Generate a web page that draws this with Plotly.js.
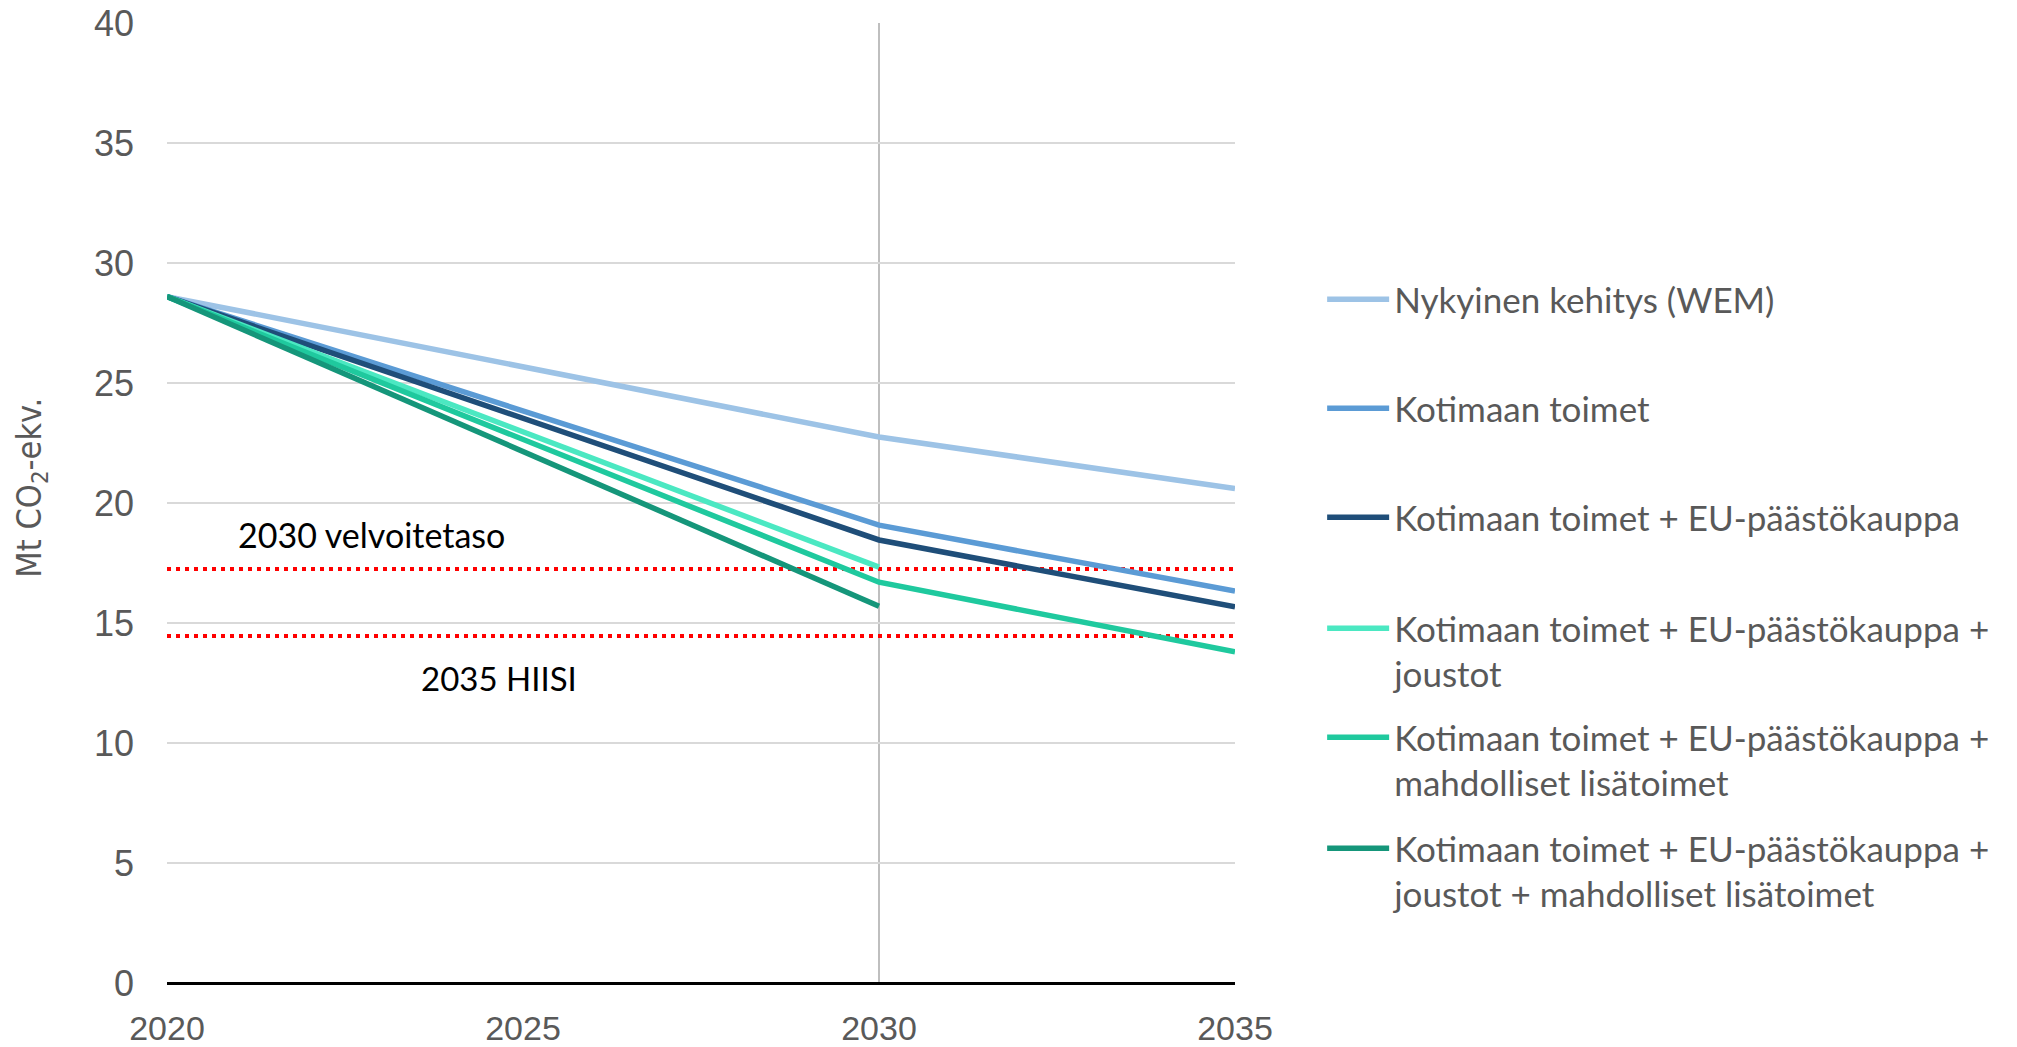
<!DOCTYPE html>
<html><head><meta charset="utf-8">
<script src="https://cdn.plot.ly/plotly-3.0.1.min.js"></script>
<style>html,body{margin:0;padding:0;background:#fff;}#chart{width:2017px;height:1047px;}</style>
</head><body><div id="chart"></div>
<script>
const years = [2020, 2030, 2035];
const seriesNames = [
  "Nykyinen kehitys (WEM)",
  "Kotimaan toimet",
  "Kotimaan toimet + EU-päästökauppa",
  "Kotimaan toimet + EU-päästökauppa +<br>joustot",
  "Kotimaan toimet + EU-päästökauppa +<br>mahdolliset lisätoimet",
  "Kotimaan toimet + EU-päästökauppa +<br>joustot + mahdolliset lisätoimet"
];
const wem = [28.6, 22.75, 20.6];
const kotimaan = [28.6, 19.08, 16.33];
const kotimaanEU = [28.6, 18.46, 15.67];
const joustot = [28.6, 17.33, null];
const lisatoimet = [28.6, 16.7, 13.8];
const joustotLisatoimet = [28.6, 15.7, null];
const seriesValues = [wem, kotimaan, kotimaanEU, joustot, lisatoimet, joustotLisatoimet];
const colors = ["#9DC3E6", "#5B9BD5", "#1F4E79", "#4BE8C2", "#1FC99E", "#15967A"];

const refYears = [2020, 2035];
const velvoite2030 = [17.25, 17.25];
const hiisi2035 = [14.46, 14.46];
const refLabels = ["2030 velvoitetaso", "2035 HIISI"];
const yTitle = 'Mt CO<sub>2</sub>-ekv.';
const yTicks = [0, 5, 10, 15, 20, 25, 30, 35, 40];
const xTicks = [2020, 2025, 2030, 2035];

// legend entry first-line centres (px from top) – layout only
const legendCentersPx = [300, 409, 518, 629, 738, 849];

const traces = [];
[velvoite2030, hiisi2035].forEach(v => traces.push({
  x: refYears, y: v, type: 'scatter', mode: 'lines', showlegend: false, hoverinfo: 'skip',
  line: {color: '#FF0000', width: 4, dash: '4px,5px'}
}));
seriesValues.forEach((vals, i) => traces.push({
  x: years, y: vals, name: seriesNames[i], type: 'scatter', mode: 'lines',
  line: {color: colors[i], width: 5.5}, legend: i === 0 ? 'legend' : 'legend' + (i + 1)
}));

const layout = {
  width: 2017, height: 1047,
  paper_bgcolor: '#fff', plot_bgcolor: '#fff',
  margin: {l: 167, r: 782, t: 23, b: 64},
  font: {family: 'Lato, "Open Sans", sans-serif', color: '#595959'},
  xaxis: {
    range: [2020, 2035], tickvals: xTicks, ticktext: xTicks.map(String),
    showgrid: false, zeroline: false, showline: false, ticks: '',
    tickfont: {size: 34, family: '"Liberation Sans", Arial, sans-serif', color: '#595959'},
    ticklabelstandoff: 22
  },
  yaxis: {
    range: [0, 40], tickvals: yTicks, ticktext: yTicks.map(String),
    showgrid: true, gridcolor: '#D9D9D9', gridwidth: 2,
    zeroline: true, zerolinecolor: '#000', zerolinewidth: 3,
    showline: false, ticks: '',
    tickfont: {size: 36, family: '"Liberation Sans", Arial, sans-serif', color: '#595959'},
    ticklabelstandoff: 32
  },
  shapes: [{
    type: 'line', xref: 'x', yref: 'y', x0: 2030, x1: 2030, y0: 0, y1: 40,
    line: {color: '#BFBFBF', width: 2}, layer: 'below'
  }],
  annotations: [
    {x: 2022.87, y: 18.67, xref: 'x', yref: 'y', text: refLabels[0], showarrow: false,
     font: {size: 34, color: '#000', family: 'Lato, sans-serif'}},
    {x: 2024.66, y: 12.7, xref: 'x', yref: 'y', text: refLabels[1], showarrow: false,
     font: {size: 33, color: '#000', family: 'Lato, sans-serif'}},
    {x: -0.1264, y: 0.516, xref: 'paper', yref: 'paper', text: yTitle, showarrow: false,
     textangle: -90, xanchor: 'center', yanchor: 'middle',
     font: {size: 34, color: '#595959', family: '"DejaVu Sans Condensed", "Liberation Sans Narrow", sans-serif'}}
  ],
  showlegend: true
};
legendCentersPx.forEach((c, i) => {
  layout[i === 0 ? 'legend' : 'legend' + (i + 1)] = {
    xref: 'container', yref: 'container',
    x: 0.6555, y: 1 - (c - 30) / 1047, xanchor: 'left', yanchor: 'top',
    font: {size: 35, color: '#595959', family: 'Lato, sans-serif'},
    valign: 'top', itemwidth: 62, maxheight: 400,
    bgcolor: 'rgba(0,0,0,0)'
  };
});
Plotly.newPlot('chart', traces, layout, {displayModeBar: false, staticPlot: true});
</script></body></html>
